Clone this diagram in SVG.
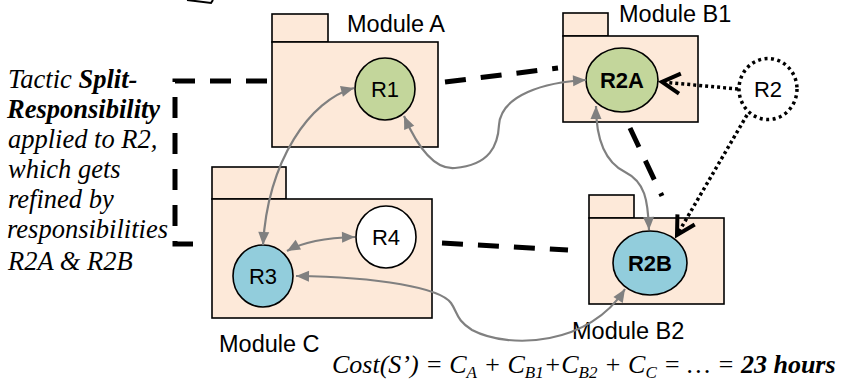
<svg xmlns="http://www.w3.org/2000/svg" width="850" height="389" viewBox="0 0 850 389">
<style>
.mod{fill:#fde9d9;stroke:#000;stroke-width:1.6}
.lbl{font-family:"Liberation Sans",Arial,sans-serif;font-size:23.5px;fill:#000}
.rl{font-family:"Liberation Sans",Arial,sans-serif;font-size:22px;fill:#000;text-anchor:middle}
.rb{font-weight:bold}
.circ{stroke:#000;stroke-width:1.6}
.green{fill:#c3d69b}
.blue{fill:#92cddc}
.dash{fill:none;stroke:#000;stroke-width:5;stroke-dasharray:21 15}
.dot{fill:none;stroke:#000;stroke-width:3.5;stroke-dasharray:3 3}
.gray{fill:none;stroke:#808080;stroke-width:2.2;marker-start:url(#ga);marker-end:url(#ga)}
.tx{font-family:"Liberation Serif","Times New Roman",serif;font-style:italic;font-size:26.5px;fill:#000}
.cost{font-family:"Liberation Serif","Times New Roman",serif;font-style:italic;font-size:26px;fill:#000}
</style>
<defs>
<marker id="ga" markerUnits="userSpaceOnUse" viewBox="-15 -8 17 16" markerWidth="17" markerHeight="16" refX="0" refY="0" orient="auto-start-reverse">
<path d="M-13,-5.5 L0,0 L-13,5.5 z" fill="#808080"/>
</marker>
<marker id="oa" markerUnits="userSpaceOnUse" viewBox="-22 -14 26 28" markerWidth="26" markerHeight="28" refX="0" refY="0" orient="auto">
<path d="M-18,-10 L0,0 L-18,10" fill="none" stroke="#000" stroke-width="4" stroke-dasharray="none"/>
</marker>
</defs>
<path d="M187,0 L211,3 L213,0" fill="none" stroke="#000" stroke-width="2"/>
<g id="moduleA">
<rect class="mod" x="272" y="14" width="56" height="28"/>
<rect class="mod" x="272" y="42" width="166" height="105"/>
<text class="lbl" x="347" y="32">Module A</text>
</g>
<g id="moduleB1">
<rect class="mod" x="563" y="13" width="45" height="23"/>
<rect class="mod" x="563" y="36" width="135" height="86"/>
<text class="lbl" x="619" y="22">Module B1</text>
</g>
<g id="moduleB2">
<rect class="mod" x="589" y="195" width="45" height="23"/>
<rect class="mod" x="589" y="218" width="135" height="86"/>
<text class="lbl" x="572" y="339">Module B2</text>
</g>
<g id="moduleC">
<rect class="mod" x="212" y="167" width="74" height="32"/>
<rect class="mod" x="212" y="199" width="220" height="119"/>
<text class="lbl" x="219" y="352">Module C</text>
</g>
<g id="R1">
<ellipse class="circ green" cx="385" cy="89" rx="30" ry="31"/>
<text class="rl" x="385" y="97">R1</text>
</g>
<g id="R2A">
<ellipse class="circ green" cx="622" cy="80" rx="36" ry="32"/>
<text class="rl rb" x="622" y="88">R2A</text>
</g>
<g id="R2">
<ellipse cx="768" cy="89" rx="29" ry="30.5" fill="#fff" stroke="#000" stroke-width="3.5" stroke-dasharray="3 3.5"/>
<text class="rl" x="768" y="97">R2</text>
</g>
<g id="R2B">
<ellipse class="circ blue" cx="650" cy="263" rx="37" ry="32"/>
<text class="rl rb" x="650" y="271">R2B</text>
</g>
<g id="R3">
<ellipse class="circ blue" cx="263" cy="276" rx="30" ry="31"/>
<text class="rl" x="263" y="284">R3</text>
</g>
<g id="R4">
<ellipse class="circ" fill="#fff" cx="386" cy="237" rx="30" ry="31"/>
<text class="rl" x="386" y="245">R4</text>
</g>
<g id="connectors">
<path class="dash" d="M267,81 L175,81 L175,244 L206,244"/>
<path class="dash" d="M445,82 L558,68"/>
<path class="dash" d="M630,128 L662,196"/>
<path class="dash" d="M442,243 L568,250"/>
<path class="dot" d="M738,89 L662,82" marker-end="url(#oa)"/>
<path class="dot" d="M747,115 L677,235" marker-end="url(#oa)"/>
<path class="gray" d="M354,88 C310,100 268,160 263,245"/>
<path class="gray" d="M404,116 C418,148 435,170 455,168 C490,165 498,145 499,125 C501,95 545,82 586,80"/>
<path class="gray" d="M596,106 C596,140 605,162 625,172 C645,182 648,200 649,230"/>
<path class="gray" d="M287,251 Q310,238 355,237"/>
<path class="gray" d="M296,276 C380,277 440,288 451,303 C458,313 456,320 472,330 C510,350 590,345 625,289"/>
</g>
<g id="tactic">
<text class="tx" x="8" y="88">Tactic <tspan font-weight="bold">Split-</tspan></text>
<text class="tx" x="7" y="118" font-weight="bold">Responsibility</text>
<text class="tx" x="8" y="148">applied to R2,</text>
<text class="tx" x="8" y="178">which gets</text>
<text class="tx" x="8" y="208">refined by</text>
<text class="tx" x="7" y="238">responsibilities</text>
<text class="tx" x="8" y="270">R2A &amp; R2B</text>
</g>
<g id="cost">
<text class="cost" x="332" y="373">Cost(S’) = C<tspan font-size="17" dy="5">A</tspan><tspan dy="-5"> + C</tspan><tspan font-size="17" dy="5">B1</tspan><tspan dy="-5">+C</tspan><tspan font-size="17" dy="5">B2</tspan><tspan dy="-5"> + C</tspan><tspan font-size="17" dy="5">C</tspan><tspan dy="-5"> = … = </tspan><tspan font-weight="bold">23 hours</tspan></text>
</g>
</svg>
